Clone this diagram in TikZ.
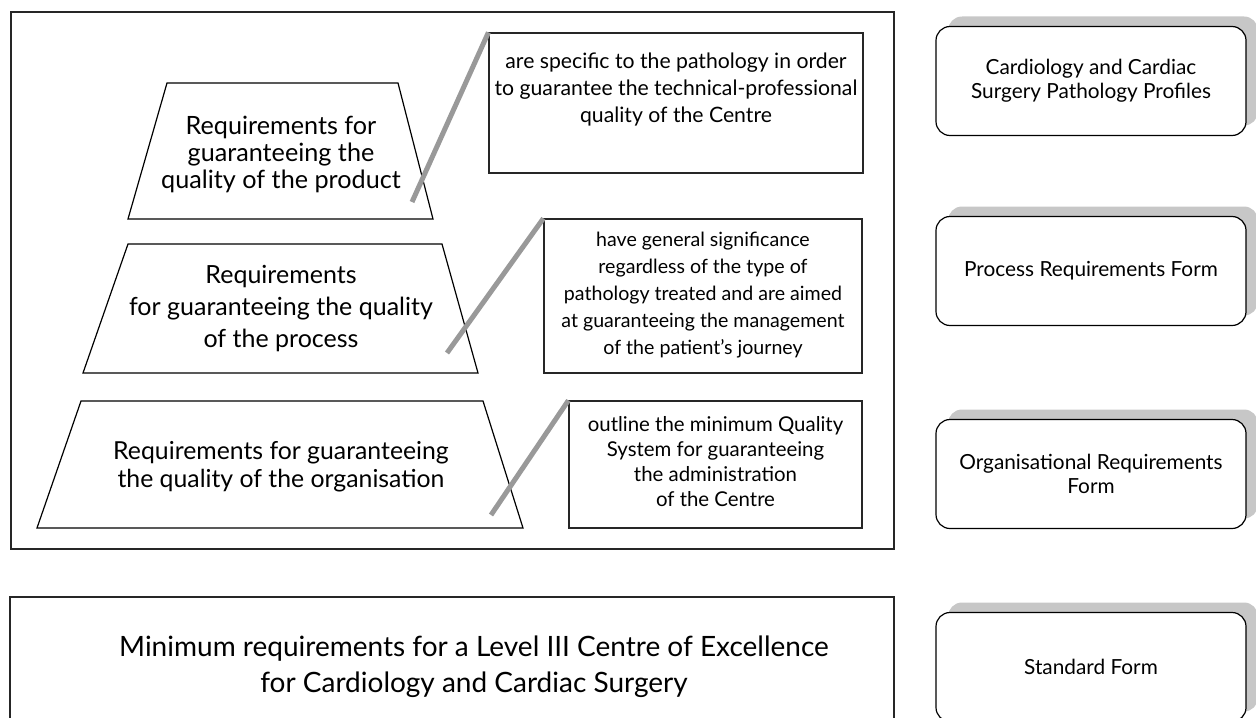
\documentclass[tikz,border=0pt]{standalone}
\usepackage{fontspec}
\setmainfont{Lato}
\usetikzlibrary{shadows}

\tikzset{
  frame/.style={draw=black!85, line width=0.7pt},
  trapedge/.style={draw=black, line width=0.6pt},
  trapname/.style={align=center, inner sep=0pt},
  notebox/.style={draw=black!85, line width=0.6pt, fill=white, inner sep=0pt},
  notetext/.style={align=center, inner sep=0pt},
  callout/.style={draw=black!40, line width=2.5pt},
  formbox/.style={draw=black, line width=0.6pt, rounded corners=7pt, fill=white,
    align=center, minimum width=155pt, minimum height=54.5pt, inner sep=0pt,
    font=\fontsize{10.4}{12}\selectfont,
    drop shadow={shadow xshift=6pt, shadow yshift=5pt, fill=black!22, opacity=1}},
}

\begin{document}
\begin{tikzpicture}[x=0.5pt,y=-0.5pt]
  \useasboundingbox (0,0) rectangle (1256,717);
  \clip (0,0) rectangle (1256,717);

  % outer frame
  \draw[frame] (11,12) rectangle (894,549);

  % the three levels
  \draw[trapedge] (128,219) -- (167,83) -- (398,83) -- (433,219) -- cycle;
  \draw[trapedge] (83,373) -- (128,244) -- (442,244) -- (478,373) -- cycle;
  \draw[trapedge] (37,528) -- (81,401) -- (483,401) -- (523,528) -- cycle;
  \node[trapname, font=\fontsize{12.6}{13.5}\selectfont] (product) at (281,154)
    {Requirements for\\guaranteeing the\\quality of the product};
  \node[trapname, font=\fontsize{12.5}{16}\selectfont] (process) at (281,309)
    {Requirements\\for guaranteeing the quality\\of the process};
  \node[trapname, font=\fontsize{12.4}{14}\selectfont] (organisation) at (281,467)
    {Requirements for guaranteeing\\the quality of the organisation};

  % notes
  \node[notebox, minimum width=187pt, minimum height=70pt] (spec) at (676,103) {};
  \node[notetext, font=\fontsize{10.6}{13.5}\selectfont] (spectext) at (676,90)
    {are specific to the pathology in order\\to guarantee the technical-professional\\quality of the Centre};
  \node[notebox, minimum width=159pt, minimum height=77pt] (general) at (703,296) {};
  \node[notetext, font=\fontsize{9.8}{13.5}\selectfont] (generaltext) at (703,295)
    {have general significance\\regardless of the type of\\pathology treated and are aimed\\at guaranteeing the management\\of the patient’s journey};
  \node[notebox, minimum width=146.5pt, minimum height=63.5pt] (outline) at (715.5,464.5) {};
  \node[notetext, font=\fontsize{10.2}{12.5}\selectfont] (outlinetext) at (715.5,462)
    {outline the minimum Quality\\System for guaranteeing\\the administration\\of the Centre};

  % callouts
  \coordinate (pend) at (412,202);
  \coordinate (rend) at (447,353);
  \coordinate (oend) at (491,515);
  \draw[callout] (pend) -- (spec.north west);
  \draw[callout] (rend) -- (general.north west);
  \draw[callout] (oend) -- (outline.north west);

  % minimum requirements
  \draw[frame] (10,597) rectangle (894,740);
  \node[align=center, font=\fontsize{14}{18}\selectfont] (minimum) at (474,667)
    {Minimum requirements for a Level III Centre of Excellence\\for Cardiology and Cardiac Surgery};

  % forms
  \node[formbox] (profiles) at (1091,81) {Cardiology and Cardiac\\Surgery Pathology Profiles};
  \node[formbox] (processform) at (1091,271) {Process Requirements Form};
  \node[formbox] (orgform) at (1091,474) {Organisational Requirements\\Form};
  \node[formbox] (standard) at (1091,667) {Standard Form};
\end{tikzpicture}
\end{document}
